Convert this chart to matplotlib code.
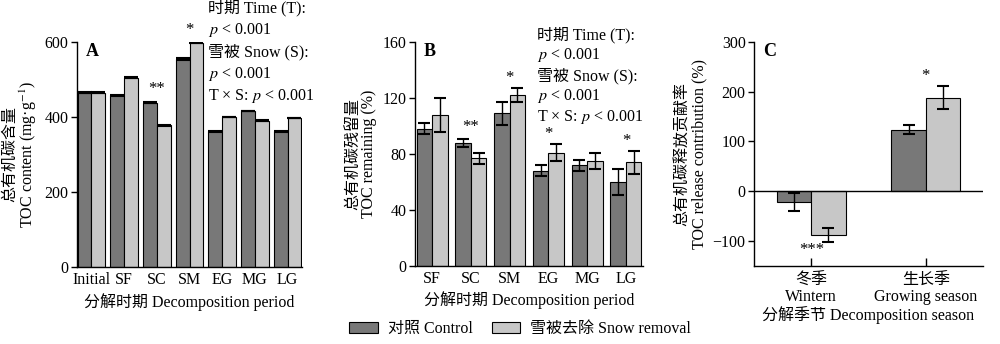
import numpy as np
import matplotlib
matplotlib.use("Agg")
import matplotlib.pyplot as plt
from matplotlib.patches import Patch

plt.rcParams['font.family'] = ['Liberation Serif', 'Noto Sans CJK SC']
plt.rcParams['mathtext.fontset'] = 'stix'
plt.rcParams['font.size'] = 11.5
plt.rcParams['axes.linewidth'] = 1.0

dark = '#787878'
light = '#c7c7c7'

# Panel A: TOC content
periods_a = ['Initial', 'SF', 'SC', 'SM', 'EG', 'MG', 'LG']
toc_ctrl = [465, 458, 438, 555, 362, 416, 362]
toc_sr = [465, 505, 378, 598, 400, 390, 397]
toc_ctrl_err = [2, 1, 1, 2, 1, 1, 1]
toc_sr_err = [2, 2, 1, 2, 1, 1, 1]
stars_a = {'SC': ('**', 475), 'SM': ('*', 632)}

# Panel B: TOC remaining
periods_b = ['SF', 'SC', 'SM', 'EG', 'MG', 'LG']
rem_ctrl = [98, 88, 109, 68, 72, 60]
rem_sr = [108, 77, 122, 81, 75, 74]
rem_ctrl_err = [4, 3, 8, 4, 4, 9]
rem_sr_err = [12, 4, 5, 6, 6, 8]
stars_b = {'SC': ('**', 99), 'SM': ('*', 134), 'EG': ('*', 94), 'LG': ('*', 89)}

# Panel C: release contribution
seasons = ['冬季\nWintern', '生长季\nGrowing season']
con_ctrl = [-22, 124]
con_sr = [-87, 188]
con_ctrl_err = [18, 9]
con_sr_err = [14, 23]
stars_c = [('***', -118), ('*', 232)]

stat_lines = ['时期 Time (T):', '$p$ < 0.001', '雪被 Snow (S):', '$p$ < 0.001',
              'T × S: $p$ < 0.001']

fig = plt.figure(figsize=(10, 3.44), dpi=100)


def style(ax):
    ax.spines['top'].set_visible(False)
    ax.spines['right'].set_visible(False)
    ax.tick_params(axis='y', direction='out', length=4, width=1, pad=2)


def pair_bars(ax, n, c, s, ce, se, w, cap=4):
    x = np.arange(n)
    eb = dict(ecolor='black', capsize=cap, elinewidth=1, capthick=1.5)
    ax.bar(x - w / 2, c, w, color=dark, edgecolor='black', linewidth=0.8,
           yerr=ce, error_kw=eb)
    ax.bar(x + w / 2, s, w, color=light, edgecolor='black', linewidth=0.8,
           yerr=se, error_kw=eb)
    return x


# ---- A
axA = fig.add_axes([0.077, 0.224, 0.225, 0.654])
style(axA)
xa = pair_bars(axA, len(periods_a), toc_ctrl, toc_sr, toc_ctrl_err, toc_sr_err, 0.42, cap=5)
axA.set_xlim(-0.44, len(periods_a) - 0.56)
axA.set_ylim(0, 600)
axA.set_yticks([0, 200, 400, 600])
axA.set_xticks(xa)
axA.set_xticklabels(periods_a)
axA.tick_params(axis='x', length=0, pad=4)
for k, (txt, y) in stars_a.items():
    axA.text(periods_a.index(k), y, txt, ha='center', va='center', fontsize=12)
axA.set_ylabel('总有机碳含量\nTOC content (mg·g$^{-1}$)', labelpad=4, linespacing=1.0)
axA.set_xlabel('分解时期 Decomposition period', labelpad=3)
axA.text(0.04, 0.995, 'A', transform=axA.transAxes, fontweight='bold',
         fontsize=13, va='top', ha='left')
for i, t in enumerate(stat_lines):
    fig.text(0.208, 1 - (8 + 22 * i) / 344, t, va='center', ha='left', fontsize=11.5)

# ---- B
axB = fig.add_axes([0.415, 0.227, 0.228, 0.651])
style(axB)
xb = pair_bars(axB, len(periods_b), rem_ctrl, rem_sr, rem_ctrl_err, rem_sr_err, 0.40)
axB.set_xlim(-0.44, len(periods_b) - 0.56)
axB.set_ylim(0, 160)
axB.set_yticks([0, 40, 80, 120, 160])
axB.set_xticks(xb)
axB.set_xticklabels(periods_b)
axB.tick_params(axis='x', length=0, pad=4)
for k, (txt, y) in stars_b.items():
    axB.text(periods_b.index(k), y, txt, ha='center', va='center', fontsize=12)
axB.set_ylabel('总有机碳残留量\nTOC remaining (%)', labelpad=4, linespacing=1.0)
axB.set_xlabel('分解时期 Decomposition period', labelpad=3)
axB.text(0.04, 0.995, 'B', transform=axB.transAxes, fontweight='bold',
         fontsize=13, va='top', ha='left')
for i, t in enumerate(stat_lines):
    fig.text(0.537, 1 - (35 + 20.5 * i) / 344, t, va='center', ha='left', fontsize=11.5)

# ---- C
axC = fig.add_axes([0.754, 0.227, 0.229, 0.651])
style(axC)
xc = pair_bars(axC, len(seasons), con_ctrl, con_sr, con_ctrl_err, con_sr_err, 0.30)
axC.axhline(0, color='black', linewidth=1)
axC.set_xlim(-0.5, 1.5)
axC.set_ylim(-150, 300)
axC.set_yticks([-100, 0, 100, 200, 300])
axC.set_yticklabels(['−100', '0', '100', '200', '300'])
axC.set_xticks(xc)
axC.set_xticklabels(seasons, linespacing=1.0)
axC.tick_params(axis='x', direction='in', length=6, width=1, pad=5)
for i, (txt, y) in enumerate(stars_c):
    axC.text(xc[i], y, txt, ha='center', va='center', fontsize=12)
axC.set_ylabel('总有机碳释放贡献率\nTOC release contribution (%)', labelpad=4, linespacing=1.0)
axC.set_xlabel('分解季节 Decomposition season', labelpad=1)
axC.text(0.04, 0.995, 'C', transform=axC.transAxes, fontweight='bold',
         fontsize=13, va='top', ha='left')

handles = [Patch(facecolor=dark, edgecolor='black', linewidth=0.8),
           Patch(facecolor=light, edgecolor='black', linewidth=0.8)]
fig.legend(handles, ['对照 Control', '雪被去除 Snow removal'], loc='center',
           bbox_to_anchor=(0.52, 1 - 329 / 344), ncol=2, frameon=False,
           handlelength=1.8, handleheight=0.7, columnspacing=1.2, handletextpad=0.6)

fig.savefig('out.png', dpi=100)
